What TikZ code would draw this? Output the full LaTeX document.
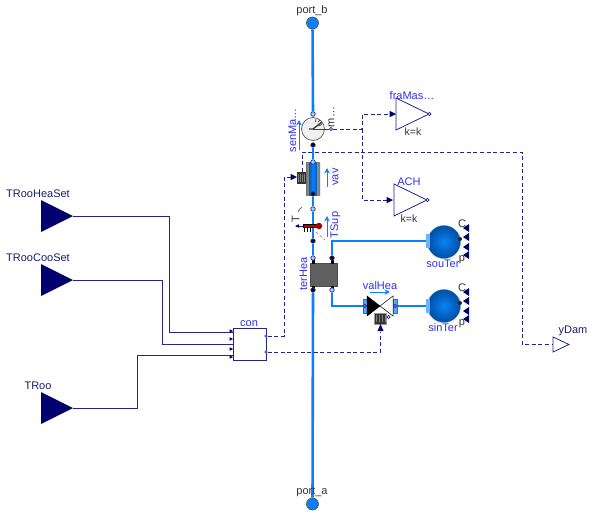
\documentclass[tikz,border=0pt]{standalone}
\usepackage{fontspec}
\setmainfont{Liberation Sans}
\usepackage{tikz}
\usetikzlibrary{arrows.meta, shapes.geometric, backgrounds}
\usepackage{xcolor}
\definecolor{wirenavy}{HTML}{24248F}
\definecolor{fillnavy}{HTML}{00006E}
\definecolor{labelblue}{HTML}{2F2FF0}
\definecolor{labelnavy}{HTML}{1C1C70}
\definecolor{pipeblue}{HTML}{0A80FF}
\definecolor{bodygray}{HTML}{5F5F5F}
\definecolor{ballblue}{HTML}{0A80F8}
\definecolor{balldark}{HTML}{00509F}

\begin{document}
\begin{tikzpicture}[
    x=1pt, y=-1pt,
    namelabel/.style={inner sep=0pt, font=\fontsize{11}{12}\selectfont, text=labelblue},
    graylabel/.style={inner sep=0pt, font=\fontsize{11}{12}\selectfont, text=black!80},
    navylabel/.style={inner sep=0pt, font=\fontsize{11}{12}\selectfont, text=labelnavy},
    paramlabel/.style={inner sep=0pt, font=\fontsize{10.5}{12}\selectfont, text=black!80},
    wire/.style={draw=wirenavy, line width=0.8pt},
    sigwire/.style={wire, dash pattern=on 4pt off 2.6pt},
    pipe/.style={draw=pipeblue, line width=2.6pt},
    flowarrow/.style={draw=pipeblue, line width=1pt, -{Stealth[length=5.5pt,width=5.5pt]}},
    bigport/.style={circle, draw=black!65, fill=pipeblue, line width=0.7pt, minimum size=12pt, inner sep=0pt},
    fluidport/.style={circle, draw=wirenavy, fill=pipeblue!35, line width=0.7pt, minimum size=4.5pt, inner sep=0pt},
    darkport/.style={fluidport, fill=fillnavy!70!black, draw=black!75},
    inblock/.style={isosceles triangle, isosceles triangle stretches, shape border rotate=0,
                    fill=fillnavy, minimum width=32pt, minimum height=32pt, inner sep=0pt, outer sep=0pt, anchor=apex},
    gainblock/.style={isosceles triangle, isosceles triangle stretches, draw=wirenavy, fill=white, line width=0.8pt,
                      minimum width=32pt, minimum height=33pt, inner sep=0pt, outer sep=0pt, anchor=apex},
    tinyin/.style={isosceles triangle, isosceles triangle stretches, fill=fillnavy,
                   minimum width=6.5pt, minimum height=6.5pt, inner sep=0pt, outer sep=0pt, anchor=apex},
    tinyup/.style={tinyin, shape border rotate=90},
    ballport/.style={tinyin, shape border rotate=180, minimum width=8pt, minimum height=6pt},
    outdot/.style={circle, draw=wirenavy, fill=white, line width=0.6pt, minimum size=3.2pt, inner sep=0pt},
    sphere/.style={circle, inner color=ballblue, outer color=balldark, draw=balldark!70, line width=0.3pt,
                   minimum size=33pt, inner sep=0pt},
    flange/.style={rectangle, fill=pipeblue!70, draw=black!60, line width=0.5pt, minimum width=4pt,
                   minimum height=14pt, inner sep=0pt},
    ballflange/.style={flange, draw=none, fill=pipeblue!60},
  ]
    \useasboundingbox (0,0) rectangle (594,517);

    % outer connectors
    \node[bigport] (port_b) at (312.5,23) {};
    \node[bigport] (port_a) at (312.5,504) {};
    \node[graylabel] (port_bLabel) at (312,10.5) {port\_b};
    \node[graylabel] (port_aLabel) at (312,492.5) {port\_a};
    \node[inblock] (TRooHeaSet) at (73,216) {};
    \node[inblock] (TRooCooSet) at (73,280) {};
    \node[inblock] (TRoo) at (73,408) {};
    \node[navylabel] (TRooHeaSetLabel) at (38,194) {TRooHeaSet};
    \node[navylabel] (TRooCooSetLabel) at (38,258) {TRooCooSet};
    \node[navylabel] (TRooLabel) at (38,386) {TRoo};
    \node[gainblock, minimum width=15pt, minimum height=16pt] (yDam) at (569,344.5) {};
    \node[navylabel] (yDamLabel) at (573,331) {yDam};

    % controller
    \node[draw=wirenavy, fill=white, line width=0.8pt, minimum width=33pt, minimum height=32pt,
          inner sep=0pt, outer sep=0pt] (con) at (249.5,344) {};
    \node[namelabel] (conLabel) at (249,324) {con};
    \node[tinyin, minimum width=3.6pt, minimum height=3.4pt] (conIn1) at (233,331) {};
    \node[tinyin, minimum width=3.6pt, minimum height=3.4pt] (conIn2) at (233,339) {};
    \node[tinyin, minimum width=3.6pt, minimum height=3.4pt] (conIn3) at (233,349) {};
    \node[tinyin, minimum width=3.6pt, minimum height=3.4pt] (conIn4) at (233,357) {};
    \node[outdot, minimum size=2.6pt] (conOut1) at (266,336) {};
    \node[outdot, minimum size=2.6pt] (conOut2) at (266,352) {};

    % mass flow sensor
    \node[circle, draw=black!65, fill=black!6, line width=0.7pt, minimum size=23pt, inner sep=0pt] (senMasFlo) at (313,129) {};
    \node[darkport] (senIn) at (313,145) {};
    \node[fluidport] (senOut) at (313,114) {};
    \node[outdot] (senY) at (331,129) {};
    \node[namelabel, rotate=90] (senMasFloLabel) at (292.5,130) {senMa…};
    \node[graylabel, rotate=90] (senYLabel) at (331.5,117) {m…};
    \draw[black!75, line width=1.4pt] (senMasFlo.center) -- ++(9,-7) (senMasFlo.center) -- ++(-4,0);
    \draw[black!75, line width=0.7pt] (senMasFlo.center) -- (senY);
    \draw[black!75, line width=0.7pt] (322,124) -- (319,126) (320,120) -- (318,122) (316,119) -- (315.5,122);
    \draw[flowarrow] (299,150) -- (299,120);

    % gains
    \node[gainblock] (fraMasFlo) at (429,114) {};
    \node[outdot] (fraMasFloOut) at (429.5,114) {};
    \node[tinyin] (fraMasFloIn) at (396,114) {};
    \node[namelabel] (fraMasFloLabel) at (412,95.5) {fraMas…};
    \node[paramlabel] (fraMasFloPar) at (413,132) {k=k};
    \node[gainblock] (ACH) at (427,200) {};
    \node[outdot] (ACHOut) at (427.5,200) {};
    \node[tinyin] (ACHIn) at (393,200) {};
    \node[namelabel] (ACHLabel) at (409,181.5) {ACH};
    \node[paramlabel] (ACHPar) at (409,219) {k=k};

    % damper
    \node[rectangle, left color=black!55, right color=black!55, middle color=black!25, minimum width=14pt, minimum height=33pt, inner sep=0pt] (vav) at (313,178.5) {};
    \node[rectangle, inner sep=0pt, minimum width=8pt, minimum height=33pt, left color=pipeblue!70!black, right color=pipeblue!70!black, middle color=pipeblue] (vavCore) at (313,178.5) {};
    \node[fluidport] (vavOut) at (313,162) {};
    \node[darkport] (vavIn) at (313,194) {};
    \node[rectangle, fill=black!80, minimum width=9pt, minimum height=12pt, inner sep=0pt, outer sep=0pt] (vavAct) at (301.5,178) {};
    \node[tinyin] (vavActIn) at (297,177) {};
    \node[namelabel, rotate=90] (vavLabel) at (335.5,177) {vav};
    \draw[black!50, line width=0.5pt] (298,174) -- (298,182) (300,174) -- (300,182) (302,174) -- (302,182) (304,174) -- (304,182);
    \draw[flowarrow] (327,187) -- (327,168);

    % temperature sensor
    \node[fluidport] (TSupOut) at (313,209) {};
    \node[darkport] (TSupIn) at (313,241) {};
    \node[rectangle, draw=black, fill=red!75!black, line width=0.6pt, minimum width=15pt, minimum height=3.2pt, inner sep=0pt] (TSupBar) at (310.5,226) {};
    \node[circle, fill=red!65!black, minimum size=6.5pt, inner sep=0pt] (TSupBulb) at (319,226) {};
    \node[tinyin, minimum width=3.5pt, minimum height=4pt, shape border rotate=180, anchor=apex] (TSupY) at (295,226) {};
    \node[graylabel, rotate=90] (TSupYLabel) at (295.5,219) {T};
    \node[namelabel, rotate=90] (TSupLabel) at (335.5,225) {TSup};
    \draw[wirenavy, line width=0.6pt] (TSupY) -- (TSupBar);
    \draw[black, line width=0.6pt] (304,228) -- (304,232) (307,228) -- (307,232) (310,228) -- (310,232);
    \draw[black!55, line width=0.5pt, densely dashed] (316,232) -- (325,240);
    \draw[black!70, line width=0.6pt] (298,212) arc[start angle=200, end angle=240, radius=9];
    \draw[flowarrow] (327,237) -- (327,216);

    % heating coil
    \node[rectangle, draw=black!70, fill=bodygray, line width=0.6pt, minimum width=27pt, minimum height=23pt, inner sep=0pt, outer sep=0pt] (terHea) at (323.5,274.5) {};
    \node[rectangle, fill=black, minimum width=3pt, minimum height=5pt, inner sep=0pt] (terHeaTab1) at (313,261) {};
    \node[rectangle, fill=black, minimum width=3pt, minimum height=5pt, inner sep=0pt] (terHeaTab2) at (332,261) {};
    \node[rectangle, fill=black, minimum width=3pt, minimum height=5pt, inner sep=0pt] (terHeaTab3) at (313,288) {};
    \node[rectangle, fill=black, minimum width=3pt, minimum height=5pt, inner sep=0pt] (terHeaTab4) at (332,288) {};
    \node[fluidport] (terHeaIn2) at (313,258) {};
    \node[darkport] (terHeaOut1) at (332,258) {};
    \node[darkport] (terHeaIn1) at (313,290) {};
    \node[fluidport] (terHeaOut2) at (332,290) {};
    \node[namelabel, rotate=90] (terHeaLabel) at (303.5,274) {terHea};

    % valve
    \node[flange] (valHeaIn) at (365.5,306) {};
    \node[flange] (valHeaOut) at (395,306) {};
    \node[outdot, fill=pipeblue!60] (valHeaPortA) at (365,306) {};
    \node[outdot, fill=pipeblue!60] (valHeaPortB) at (395,306) {};
    \node[isosceles triangle, isosceles triangle stretches, fill=black, draw=black, line width=0.5pt, minimum width=20pt, minimum height=13pt, inner sep=0pt, outer sep=0pt, anchor=apex] (valHeaLeft) at (380,306) {};
    \node[isosceles triangle, isosceles triangle stretches, shape border rotate=180, fill=white, draw=black, line width=0.5pt, minimum width=20pt, minimum height=13pt, inner sep=0pt, outer sep=0pt, anchor=apex] (valHeaRight) at (380,306) {};
    \node[rectangle, fill=black!80, draw=black!40, line width=0.4pt, minimum width=12pt, minimum height=11pt, inner sep=0pt, outer sep=0pt] (valHeaAct) at (380,318.5) {};
    \node[tinyup, minimum width=6pt, minimum height=7pt] (valHeaActIn) at (380.5,324) {};
    \node[outdot] (valHeaY) at (388.5,317) {};
    \node[namelabel] (valHeaLabel) at (380,285.5) {valHea};
    \draw[black!50, line width=0.5pt] (376,315) -- (376,322) (379,315) -- (379,322) (382,315) -- (382,322) (385,315) -- (385,322);
    \draw[flowarrow] (370,292) -- (390,292);

    % sources and sinks
    \node[sphere] (souTer) at (444,242) {};
    \node[ballflange] (souTerPort) at (428,241) {};
    \node[namelabel] (souTerLabel) at (443,263.5) {souTer};
    \node[ballport] (souTerA) at (463,228) {};
    \node[ballport] (souTerB) at (463,237) {};
    \node[ballport] (souTerD) at (463,247) {};
    \node[ballport] (souTerE) at (463,255) {};
    \node[circle, fill=black!85, minimum size=4pt, inner sep=0pt] (souTerDot) at (460,239) {};
    \node[graylabel] (souTerC) at (462,224) {C};
    \node[graylabel] (souTerP) at (462,260) {p};
    \node[sphere] (sinTer) at (444,306) {};
    \node[ballflange] (sinTerPort) at (428,306) {};
    \node[namelabel] (sinTerLabel) at (443,327.5) {sinTer};
    \node[ballport] (sinTerA) at (463,292) {};
    \node[ballport] (sinTerB) at (463,301) {};
    \node[ballport] (sinTerD) at (463,311) {};
    \node[ballport] (sinTerE) at (463,319) {};
    \node[circle, fill=black!85, minimum size=4pt, inner sep=0pt] (sinTerDot) at (460,303) {};
    \node[graylabel] (sinTerC) at (462,288) {C};
    \node[graylabel] (sinTerP) at (462,324) {p};

    \coordinate (yDamBase) at (553,344.5);
    \coordinate (fraMasFloBase) at (390,114);
    \coordinate (ACHBase) at (387,200);
    \coordinate (vavActBase) at (291,177);
    \coordinate (valHeaBase) at (380.5,332);
    \coordinate (vavTop) at (302,172);
    \coordinate (conA) at (233,332);
    \coordinate (conB) at (233,344.5);
    \coordinate (conC) at (233,355);
    \coordinate (senBranch) at (362,129);

    \begin{pgfonlayer}{background}
      \draw[pipe] (port_b) -- (senOut);
      \draw[pipe] (senIn) -- (vavOut);
      \draw[pipe] (vavIn) -- (TSupOut);
      \draw[pipe] (TSupOut) -- (TSupIn);
      \draw[pipe] (TSupIn) -- (terHeaIn2);
      \draw[pipe] (terHeaIn1) -- (port_a);
      \draw[pipe] (terHeaOut1) |- (souTerPort);
      \draw[pipe] (terHeaOut2) |- (valHeaIn);
      \draw[pipe] (valHeaOut) -- (sinTerPort);

      \draw[wire] (TRooHeaSet.apex) -- (169.5,216) |- (conA);
      \draw[wire] (TRooCooSet.apex) -- (162.5,280) |- (conB);
      \draw[wire] (TRoo.apex) -- (137.5,408) |- (conC);

      \draw[sigwire] (conOut1) -| (284,177) -- (vavActBase);
      \draw[sigwire] (conOut2) -| (valHeaBase);
      \draw[sigwire] (senY) -- (senBranch) |- (fraMasFloBase);
      \draw[sigwire] (senBranch) |- (ACHBase);
      \draw[sigwire] (vavTop) |- (522,152) |- (yDamBase);
      \fill[wirenavy] (senBranch) circle (1.2pt);
    \end{pgfonlayer}
  \end{tikzpicture}
\end{document}
